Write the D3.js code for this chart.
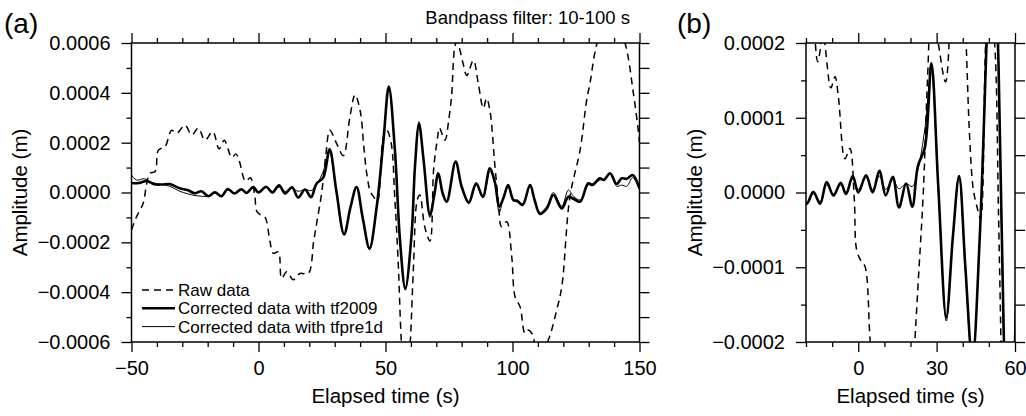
<!DOCTYPE html>
<html>
<head>
<meta charset="utf-8">
<script src="https://cdn.jsdelivr.net/npm/d3@7"></script>
<style>
  body { margin: 0; background: #fff; }
  text { fill: #000; }
</style>
</head>
<body>
<div id="chart"></div>
<script>
// amplitudes are in units of 1e-4 m, time in s
const rawData = [[-50,-1.5],[-48,-0.97],[-45.4,-0.43],[-44,0.37],[-42.7,0.77],[-40.7,0.84],[-39.4,1.7],[-36.8,1.84],
  [-34.2,2.5],[-32.2,2.38],[-28.9,2.7],[-26.3,2.31],[-23.7,2.58],[-21.1,2.1],[-18,2.44],[-15.5,1.75],[-13.5,2.1],
  [-10.5,1.4],[-8.9,1.55],[-7.6,1.28],[-5.1,0.45],[-3.2,0.59],[-1.5,-0.1],[-0.6,-0.77],[1.3,-0.93],[2.6,-0.99],
  [4.5,-1.95],[5.8,-2.44],[7.8,-2.38],[9.1,-3.45],[11.1,-3.18],[13.7,-3.5],[16.3,-3.25],[19.6,-3.25],[21.7,-1.97],
  [23,-1.17],[24.9,0.0],[26.5,1.5],[28.1,2.5],[30.7,1.98],[33.4,1.48],[36,3.04],[38,3.92],[40,3.3],[41.5,1.8],
  [42.6,0.77],[44,0.05],[45.5,-0.2],[46.8,-0.35],[49.1,2.2],[50.5,2.5],[52.2,2.0],[53.7,-0.3],[55,-2.8],[56.2,-5.9],
  [58,-8.5],[59.8,-5.9],[61,-3.0],[62.5,-0.3],[63.5,-0.1],[65.5,-1.4],[67.5,-1.95],[69,1.0],[70.5,2.2],[71.2,2.6],
  [73.4,2.1],[75,3.0],[76,3.85],[77.4,5.9],[78.2,6.05],[80.5,5.2],[82,4.7],[84.6,5.3],[86.5,4.4],[88.5,3.38],
  [89.8,3.78],[91.1,3.3],[93.1,1.04],[94.4,-0.3],[95.7,-1.37],[97.7,-1.17],[99.7,-2.58],[101,-4.18],[103,-4.59],
  [104.9,-5.65],[106.2,-5.52],[107.6,-5.65],[110.5,-6.6],[114.1,-5.92],[117.4,-4.72],[119.4,-3.78],[122.6,-0.17],
  [126.6,1.7],[129.2,3.71],[130.5,4.38],[133.1,5.92],[138.5,7.5],[144.3,6.0],[147.6,3.98],[149.5,2.5],[150,2.0]];

const tf2009Data = [[-50,0.37],[-47,0.38],[-44,0.46],[-41,0.33],[-38,0.32],[-35,0.34],[-31,0.17],[-28,0.1],
  [-25,-0.03],[-22.5,0.05],[-19.7,-0.15],[-17.2,0.01],[-14.6,-0.15],[-12.1,0.14],[-9.5,-0.04],[-6.7,0.13],
  [-4.7,-0.02],[-2.1,0.22],[0,0.0],[3.0,0.23],[5.5,0.0],[8.1,0.29],[10.5,-0.04],[13.2,0.21],[15.6,-0.2],[18.3,0.12],
  [20.7,-0.19],[22.8,0.35],[25.5,0.6],[28.0,1.73],[30.6,0.1],[33.7,-1.67],[36.2,-0.6],[38.6,0.22],[41,-1.0],
  [43.7,-2.24],[46.5,-0.6],[49.2,2.1],[51.3,4.25],[53.7,1.7],[55.7,-1.9],[57.8,-3.85],[60.3,-1.64],[61.6,1.04],
  [63.2,2.75],[65,1.3],[67.5,-0.9],[69.2,-0.1],[70.8,0.77],[72.5,-0.03],[74.1,-0.37],[77.6,1.24],[80,0.23],
  [82.8,-0.4],[85.7,0.37],[88.3,-0.17],[91.1,0.97],[93.1,0.4],[94.8,-0.57],[96.5,-0.2],[98.3,0.3],[100.3,-0.3],
  [102,-0.35],[104,-0.5],[106.9,0.3],[108.7,-0.3],[110.8,-0.86],[113.5,-0.64],[116.1,-0.1],[119.4,-0.64],[122,-0.17],
  [124,-0.25],[126.6,-0.37],[129.8,0.37],[131.5,0.3],[134.4,0.57],[136,0.5],[138.4,0.77],[141,0.34],[143,0.57],
  [145,0.55],[147.3,0.7],[150,0.17]];

const tfpre1dData = [[-50,0.7],[-48,0.5],[-45,0.55],[-42,0.4],[-38,0.32],[-35,0.25],[-31,0.05],[-28,-0.05],
  [-25,-0.12],[-22.5,-0.15],[-19.7,-0.15],[-17.2,-0.02],[-14.6,-0.12],[-12.1,0.1],[-9.5,-0.02],[-6.7,0.1],
  [-4.7,0.0],[-2.1,0.18],[0,0.04],[3.0,0.2],[5.5,0.04],[8.1,0.22],[10.5,0.04],[13.2,0.17],[15.6,0.05],[18.3,0.12],
  [20.7,0.08],[22.8,0.3],[25.5,0.85],[27.9,1.62],[30.6,0.05],[33.7,-1.72],[36.2,-0.62],[38.6,0.2],[41,-1.05],
  [43.7,-2.3],[46.5,-0.6],[49.2,2.05],[51.3,4.2],[53.7,1.65],[55.7,-2.0],[57.8,-3.92],[60.3,-1.6],[61.6,1.1],
  [63.2,2.85],[65,1.3],[67.5,-1.0],[69.2,-0.1],[70.8,0.72],[72.5,-0.05],[74.1,-0.35],[77.6,1.2],[80,0.2],
  [82.8,-0.45],[85.7,0.3],[88.3,-0.2],[91.1,0.85],[93.1,0.3],[94.8,-0.8],[96.5,-0.15],[98.3,0.25],[100.3,-0.3],
  [102,-0.3],[104,-0.45],[106.9,0.25],[108.7,-0.3],[110.8,-0.8],[113.5,-0.55],[116.1,0.0],[119.4,-0.55],[122,0.1],
  [124,-0.15],[126.6,-0.3],[129.8,0.3],[131.5,0.35],[134.4,0.5],[136,0.55],[138.4,0.75],[141,0.25],[143,0.3],
  [145,0.25],[147.3,0.6],[150,0.1]];

// tick values
const xMajorA = [-50, 0, 50, 100, 150];
const xMinorA = [-40, -30, -20, -10, 10, 20, 30, 40, 60, 70, 80, 90, 110, 120, 130, 140];
const yMajorA = [-6, -4, -2, 0, 2, 4, 6];
const yMinorA = [-5, -3, -1, 1, 3, 5];
const xMajorB = [0, 30, 60];
const xMinorB = [-20, -10, 10, 20, 40, 50];
const yMajorB = [-2, -1, 0, 1, 2];
const yMinorB = [-1.5, -0.5, 0.5, 1.5];

const legendLabels = ["Raw data", "Corrected data with tf2009", "Corrected data with tfpre1d"];
const FONT = "'Liberation Sans', Arial, Helvetica, sans-serif";

const svg = d3.select("#chart").append("svg")
  .attr("width", 1026)
  .attr("height", 416)
  .style("font-family", FONT);

const fmtY = (d) => d3.format(".4f")(d / 10000);

function drawPanel(p) {
  const x = d3.scaleLinear().domain(p.xDomain).range([p.left, p.right]);
  const y = d3.scaleLinear().domain(p.yDomain).range([p.bottom, p.top]);
  const g = svg.append("g");

  g.append("clipPath").attr("id", "clip-" + p.id)
    .append("rect")
    .attr("x", p.left).attr("y", p.top)
    .attr("width", p.right - p.left).attr("height", p.bottom - p.top);

  const line = d3.line()
    .x((d) => x(d[0]))
    .y((d) => y(d[1]))
    .curve(d3.curveCatmullRom.alpha(0.5));

  const plot = g.append("g").attr("clip-path", "url(#clip-" + p.id + ")");
  plot.append("path").datum(rawData).attr("d", line)
    .attr("fill", "none").attr("stroke", "#000")
    .attr("stroke-width", 1.5).attr("stroke-dasharray", "7,5");
  plot.append("path").datum(tfpre1dData).attr("d", line)
    .attr("fill", "none").attr("stroke", "#000").attr("stroke-width", 1);
  plot.append("path").datum(tf2009Data).attr("d", line)
    .attr("fill", "none").attr("stroke", "#000").attr("stroke-width", 2.6)
    .attr("stroke-linejoin", "round");

  // ticks
  function addAxis(axis, tr, labelled) {
    const a = g.append("g").attr("transform", tr).call(axis);
    a.select(".domain").remove();
    a.selectAll("line").attr("stroke-width", 1.3);
    a.attr("font-family", FONT).attr("font-size", 20);
    if (!labelled) a.selectAll("text").remove();
    return a;
  }
  addAxis(d3.axisBottom(x).tickValues(p.xMajor).tickSize(10).tickPadding(9)
    .tickFormat(d3.format("d")), "translate(0," + p.bottom + ")", true);
  addAxis(d3.axisBottom(x).tickValues(p.xMinor).tickSize(5), "translate(0," + p.bottom + ")", false);
  addAxis(d3.axisTop(x).tickValues(p.xMajor).tickSize(10), "translate(0," + p.top + ")", false);
  addAxis(d3.axisTop(x).tickValues(p.xMinor).tickSize(5), "translate(0," + p.top + ")", false);
  addAxis(d3.axisLeft(y).tickValues(p.yMajor).tickSize(10).tickPadding(11)
    .tickFormat(fmtY), "translate(" + p.left + ",0)", true);
  addAxis(d3.axisLeft(y).tickValues(p.yMinor).tickSize(5), "translate(" + p.left + ",0)", false);
  addAxis(d3.axisRight(y).tickValues(p.yMajor.concat(p.yMinor)).tickSize(10),
    "translate(" + p.right + ",0)", false);

  // frame
  g.append("rect")
    .attr("x", p.left).attr("y", p.top)
    .attr("width", p.right - p.left).attr("height", p.bottom - p.top)
    .attr("fill", "none").attr("stroke", "#000").attr("stroke-width", 1.5);

  g.append("text")
    .attr("x", (p.left + p.right) / 2).attr("y", 403)
    .attr("text-anchor", "middle").attr("font-size", 20.5)
    .text("Elapsed time (s)");
  g.append("text")
    .attr("transform", "translate(" + p.yTitleX + "," + y(0) + ") rotate(-90)")
    .attr("text-anchor", "middle").attr("font-size", 20.5)
    .text("Amplitude (m)");
  g.append("text")
    .attr("x", p.tagX).attr("y", 33)
    .attr("font-size", 28)
    .text(p.tag);
  return { x: x, y: y, g: g };
}

const A = drawPanel({
  id: "a", tag: "(a)", tagX: 4, yTitleX: 27,
  left: 131.5, right: 639.5, top: 43, bottom: 342,
  xDomain: [-50, 150], yDomain: [-6, 6],
  xMajor: xMajorA, xMinor: xMinorA, yMajor: yMajorA, yMinor: yMinorA
});

drawPanel({
  id: "b", tag: "(b)", tagX: 677, yTitleX: 702,
  left: 806, right: 1015, top: 43, bottom: 342,
  xDomain: [-20, 60], yDomain: [-2, 2],
  xMajor: xMajorB, xMinor: xMinorB, yMajor: yMajorB, yMinor: yMinorB
});

svg.append("text")
  .attr("x", 630).attr("y", 23.5)
  .attr("text-anchor", "end").attr("font-size", 18.5)
  .text("Bandpass filter: 10-100 s");

// legend
const legendStyles = [
  { w: 1.5, dash: "7,5" },
  { w: 2.6, dash: null },
  { w: 1, dash: null }
];
const legend = A.g.append("g");
legendLabels.forEach((label, i) => {
  const cy = 290 + i * 18.3;
  legend.append("line")
    .attr("x1", 142).attr("x2", 175).attr("y1", cy).attr("y2", cy)
    .attr("stroke", "#000").attr("stroke-width", legendStyles[i].w)
    .attr("stroke-dasharray", legendStyles[i].dash);
  legend.append("text")
    .attr("x", 178).attr("y", cy + 6)
    .attr("font-size", 17)
    .text(label);
});
</script>
</body>
</html>
